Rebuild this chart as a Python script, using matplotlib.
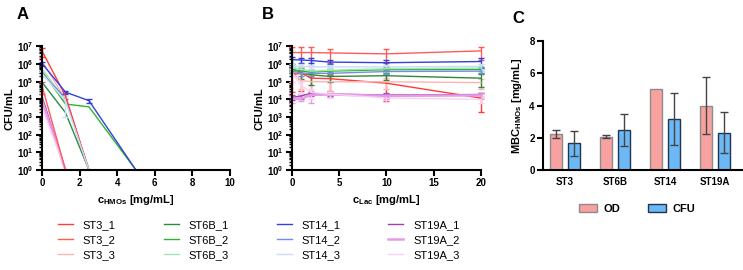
import numpy as np
import matplotlib
matplotlib.use('Agg')
import matplotlib.pyplot as plt
from matplotlib.ticker import LogLocator, NullFormatter, FuncFormatter
from matplotlib.lines import Line2D
from matplotlib.patches import Patch

plt.rcParams['font.family'] = ['Liberation Sans', 'DejaVu Sans']
plt.rcParams['mathtext.fontset'] = 'custom'
plt.rcParams['mathtext.rm'] = 'Liberation Sans'
plt.rcParams['mathtext.bf'] = 'Liberation Sans:bold'
plt.rcParams['mathtext.it'] = 'Liberation Sans:italic'

nan = np.nan

# ---- series names / colours
strains = ['ST3_1', 'ST3_2', 'ST3_3', 'ST6B_1', 'ST6B_2', 'ST6B_3',
           'ST14_1', 'ST14_2', 'ST14_3', 'ST19A_1', 'ST19A_2', 'ST19A_3']
line_colors = ['#FF3B3B', '#FF5A5A', '#FFB3B3', '#2E8B3A', '#2DB52D', '#A3E6B3',
               '#3340DD', '#7A8AE6', '#C6DEF8', '#A040B0', '#E79BE7', '#F8D2F2']

# ---- panel A: CFU/mL vs HMO concentration (1 = below detection)
x_hmo = [0, 1.25, 2.5, 5]
hmo_ST3_1 = [5.6e6, 1.6e4, 1, nan]
hmo_ST3_2 = [6e4, 1, nan, nan]
hmo_ST3_3 = [1.5e6, 1.0e4, 1, nan]
hmo_ST6B_1 = [9.5e4, 1.8e3, 1, nan]
hmo_ST6B_2 = [4e5, 5.5e3, 3.8e3, 1]
hmo_ST6B_3 = [5.5e5, 9e3, 1, nan]
hmo_ST14_1 = [1.1e6, 2.6e4, 8.5e3, 1]
hmo_ST14_2 = [3e5, 1.2e4, 1, nan]
hmo_ST14_3 = [2.9e5, 8e3, 1, nan]
hmo_ST19A_1 = [1.5e4, 1, nan, nan]
hmo_ST19A_2 = [8.5e3, 1, nan, nan]
hmo_ST19A_3 = [3.5e3, 1, nan, nan]

hmo_sd_ST3_1 = [3e6, 6e3, nan, nan]
hmo_sd_ST3_2 = [4e4, nan, nan, nan]
hmo_sd_ST14_1 = [3e5, 6e3, 2e3, nan]
hmo_sd_ST14_3 = [1e5, 7e3, nan, nan]

# ---- panel B: CFU/mL vs lactose concentration
x_lac = [0, 1, 2, 4, 10, 20]
lac_ST3_1 = [2.5e5, 3.1e5, 1.6e5, 1.5e5, 8.3e4, 1.2e4]
lac_ST3_2 = [4.5e6, 4.5e6, 4.5e6, 4.3e6, 3.8e6, 5.6e6]
lac_ST3_3 = [3e5, 1.2e5, 1e5, 1e5, 1e5, 9e4]
lac_ST6B_1 = [5.9e5, 3e5, 2.5e5, 2e5, 2.2e5, 1.6e5]
lac_ST6B_2 = [4.8e5, 4e5, 3.5e5, 4e5, 4.8e5, 5e5]
lac_ST6B_3 = [6e5, 5e5, 4e5, 4.5e5, 5.5e5, 6e5]
lac_ST14_1 = [1.8e6, 1.7e6, 1.6e6, 1.3e6, 1.2e6, 1.4e6]
lac_ST14_2 = [4e5, 3e5, 3e5, 3e5, 3.8e5, 4e5]
lac_ST14_3 = [7.5e5, 7.5e5, 7e5, 7e5, 7e5, 7.5e5]
lac_ST19A_1 = [1.3e4, 1.6e4, 2.2e4, 2e4, 1.8e4, 1.9e4]
lac_ST19A_2 = [1.1e4, 1.1e4, 1.8e4, 1.9e4, 1.6e4, 1.7e4]
lac_ST19A_3 = [3e5, 6e4, 2.5e4, 2e4, 1.2e4, 1e4]

lac_sd_ST3_1 = [2.3e5, 2.8e5, 1.4e5, 1.2e5, 1.0e6, 1.0e4]
lac_sd_ST3_2 = [4.4e6, 4.4e6, 4.4e6, 3.2e6, 3.5e6, 3.8e6]
lac_sd_ST3_3 = [2e5, 8e4, 8e4, 7e4, 6e4, 5e4]
lac_sd_ST6B_1 = [2e5, 1.5e5, 1.8e5, 1e5, 1e5, 1.1e5]
lac_sd_ST6B_2 = [1.5e5, 1e5, 1e5, 1.5e5, 2e5, 2e5]
lac_sd_ST6B_3 = [2e5, 1.5e5, 1.5e5, 1.5e5, 2e5, 2e5]
lac_sd_ST14_1 = [8e5, 5e5, 5e5, 3e5, 6e5, 8e5]
lac_sd_ST14_2 = [1e5, 1e5, 1e5, 8e4, 1e5, 1e5]
lac_sd_ST14_3 = [2e5, 2e5, 2e5, 2e5, 2e5, 2e5]
lac_sd_ST19A_1 = [4e3, 5e3, 6e3, 4e3, 4e3, 5e3]
lac_sd_ST19A_2 = [5e3, 3e3, 1.2e4, 6e3, 5e3, 6e3]
lac_sd_ST19A_3 = [2e5, 4e4, 1.5e4, 8e3, 5e3, 4e3]

# ---- panel C: MBC
groups = ['ST3', 'ST6B', 'ST14', 'ST19A']
mbc_od = [2.25, 2.07, 5.0, 4.0]
mbc_od_sd = [0.25, 0.1, nan, 1.75]
mbc_cfu = [1.65, 2.5, 3.15, 2.33]
mbc_cfu_sd = [0.75, 1.0, 1.6, 1.3]

hmo_data = [hmo_ST3_1, hmo_ST3_2, hmo_ST3_3, hmo_ST6B_1, hmo_ST6B_2, hmo_ST6B_3,
            hmo_ST14_1, hmo_ST14_2, hmo_ST14_3, hmo_ST19A_1, hmo_ST19A_2, hmo_ST19A_3]
hmo_sd = {'ST3_1': hmo_sd_ST3_1, 'ST3_2': hmo_sd_ST3_2,
          'ST14_1': hmo_sd_ST14_1, 'ST14_3': hmo_sd_ST14_3}
lac_data = [lac_ST3_1, lac_ST3_2, lac_ST3_3, lac_ST6B_1, lac_ST6B_2, lac_ST6B_3,
            lac_ST14_1, lac_ST14_2, lac_ST14_3, lac_ST19A_1, lac_ST19A_2, lac_ST19A_3]
lac_sd = [lac_sd_ST3_1, lac_sd_ST3_2, lac_sd_ST3_3, lac_sd_ST6B_1, lac_sd_ST6B_2, lac_sd_ST6B_3,
          lac_sd_ST14_1, lac_sd_ST14_2, lac_sd_ST14_3, lac_sd_ST19A_1, lac_sd_ST19A_2, lac_sd_ST19A_3]

fig = plt.figure(figsize=(7.43, 2.70), dpi=100)
axA = fig.add_axes([0.0565, 0.370, 0.253, 0.458])
axB = fig.add_axes([0.393, 0.370, 0.254, 0.458])
axC = fig.add_axes([0.731, 0.370, 0.268, 0.478])


def style_axis(ax):
    for s in ['top', 'right']:
        ax.spines[s].set_visible(False)
    for s in ['left', 'bottom']:
        ax.spines[s].set_linewidth(1.5)
    ax.tick_params(which='major', length=4, width=1.5, labelsize=7, pad=2)
    ax.tick_params(which='minor', length=2.5, width=1)
    for lab in ax.get_xticklabels() + ax.get_yticklabels():
        lab.set_fontweight('bold')


def log_axis(ax):
    ax.set_yscale('log')
    ax.set_ylim(1, 1e7)
    ax.yaxis.set_major_locator(LogLocator(base=10, numticks=10))
    ax.yaxis.set_minor_locator(LogLocator(base=10, subs=np.arange(2, 10), numticks=20))
    ax.yaxis.set_minor_formatter(NullFormatter())
    ax.yaxis.set_major_formatter(FuncFormatter(lambda v, p: r'$\mathbf{10^{%d}}$' % round(np.log10(v))))
    ax.set_ylabel('CFU/mL', fontsize=8, fontweight='bold', labelpad=2)


def lower_err(y, sd):
    y = np.array(y, dtype=float)
    sd = np.array(sd, dtype=float)
    return np.minimum(sd, 0.9 * y)


# Panel A
for name, col, y in zip(strains, line_colors, hmo_data):
    lw = 1.8 if name == 'ST19A_2' else 1.0
    if name in hmo_sd:
        sd = hmo_sd[name]
        axA.errorbar(x_hmo, y, yerr=[lower_err(y, sd), sd], color=col, lw=lw,
                     elinewidth=1, capsize=2.5, capthick=1, clip_on=False)
    else:
        axA.plot(x_hmo, y, color=col, lw=lw)
log_axis(axA)
axA.set_xlim(0, 10)
axA.set_xticks([0, 2, 4, 6, 8, 10])
axA.set_xlabel(r'c$_{\mathbf{HMOs}}$ [mg/mL]', fontsize=8, fontweight='bold', labelpad=3)
style_axis(axA)

# Panel B
for name, col, y, sd in zip(strains, line_colors, lac_data, lac_sd):
    lw = 1.8 if name == 'ST19A_2' else 1.0
    axB.errorbar(x_lac, y, yerr=[lower_err(y, sd), sd], color=col, lw=lw,
                 elinewidth=1, capsize=2.5, capthick=1, clip_on=False)
log_axis(axB)
axB.set_xlim(0, 20)
axB.set_xticks([0, 5, 10, 15, 20])
axB.set_xlabel(r'c$_{\mathbf{Lac}}$ [mg/mL]', fontsize=8, fontweight='bold', labelpad=3)
style_axis(axB)

# Panel C
pos = np.arange(len(groups))
w = 0.24
axC.bar(pos - 0.18, mbc_od, w, color='#F7A1A1', edgecolor='#8C8C8C', linewidth=1,
        yerr=mbc_od_sd, error_kw=dict(ecolor='#444444', elinewidth=1, capsize=3, capthick=1))
axC.bar(pos + 0.18, mbc_cfu, w, color='#6CB8F4', edgecolor='#1F3550', linewidth=1,
        yerr=mbc_cfu_sd, error_kw=dict(ecolor='#444444', elinewidth=1, capsize=3, capthick=1))
axC.set_xlim(-0.44, 3.55)
axC.set_ylim(0, 8)
axC.set_yticks([0, 2, 4, 6, 8])
axC.set_xticks(pos)
axC.set_xticklabels(groups)
axC.set_ylabel(r'MBC$_{\mathbf{HMOs}}$ [mg/mL]', fontsize=8, fontweight='bold', labelpad=4)
style_axis(axC)
axC.tick_params(axis='x', length=0, pad=5)

# legends
handles = [Line2D([], [], color=c, lw=(1.8 if n == 'ST19A_2' else 1.0)) for n, c in zip(strains, line_colors)]
fig.legend(handles, strains, loc='center left', bbox_to_anchor=(0.078, 0.111), ncol=4,
           frameon=False, fontsize=8, handlelength=1.35, handletextpad=0.9,
           columnspacing=4.3, labelspacing=0.45, borderpad=0, borderaxespad=0)

fig.legend([Patch(facecolor='#F7A1A1', edgecolor='#8C8C8C'), Patch(facecolor='#6CB8F4', edgecolor='#1F3550')],
           ['OD', 'CFU'], loc='center', bbox_to_anchor=(0.858, 0.226), ncol=2, frameon=False,
           prop={'size': 8, 'weight': 'bold'}, handlelength=1.6, handleheight=0.7,
           columnspacing=2.5, handletextpad=0.6)

# panel letters
fig.text(0.022, 0.945, 'A', fontsize=12, fontweight='bold', va='center')
fig.text(0.352, 0.945, 'B', fontsize=12, fontweight='bold', va='center')
fig.text(0.690, 0.93, 'C', fontsize=12, fontweight='bold', va='center')

fig.savefig('out.png', dpi=100)
